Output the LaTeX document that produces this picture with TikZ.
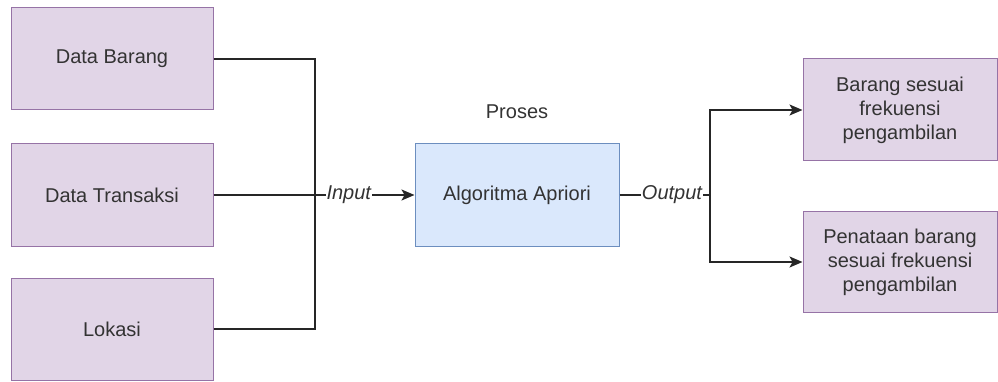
\documentclass[tikz,border=0pt]{standalone}
\usepackage{fontspec}
\setmainfont{Liberation Sans}
\usetikzlibrary{arrows.meta}
\definecolor{pfill}{HTML}{E1D5E7}
\definecolor{pdraw}{HTML}{9673A6}
\definecolor{bfill}{HTML}{DAE8FC}
\definecolor{bdraw}{HTML}{6C8EBF}
\definecolor{txt}{HTML}{333333}
\begin{document}
\begin{tikzpicture}[x=1pt,y=-1pt,
  every node/.style={font=\fontsize{20}{24}\selectfont, text=txt},
  pbox/.style={draw=pdraw, fill=pfill, line width=1pt, inner sep=0pt, align=center},
  bbox/.style={draw=bdraw, fill=bfill, line width=1pt, inner sep=0pt, align=center},
  conn/.style={draw=black!85, line width=1.4pt},
  arr/.style={conn, -{Stealth[length=13pt,width=11pt,inset=3pt]}},
  lbl/.style={fill=white, inner sep=1pt, font=\fontsize{20}{24}\selectfont\itshape}
]
\useasboundingbox (0,0) rectangle (998,382);
\node[pbox, minimum width=202pt, minimum height=102pt] (db) at (112,59) {Data Barang};
\node[pbox, minimum width=202pt, minimum height=102pt] (dt) at (112,195) {Data Transaksi};
\node[pbox, minimum width=202pt, minimum height=102pt] (lk) at (112,329) {Lokasi};
\node[bbox, minimum width=204pt, minimum height=102pt] (algo) at (517,195) {Algoritma Apriori};
\node (proses) at (517,112) {Proses};
\node[pbox, minimum width=194pt, minimum height=102pt] (r1) at (900,110) {Barang sesuai\\frekuensi\\pengambilan};
\node[pbox, minimum width=194pt, minimum height=101pt] (r2) at (900,262) {Penataan barang\\sesuai frekuensi\\pengambilan};
\coordinate (jn) at (315,195);
\coordinate (sp) at (710,195);
\draw[conn] (db.east) -| (jn);
\draw[conn] (lk.east) -| (jn);
\draw[arr] (dt.east) -- node[lbl, pos=0.673] {Input} (algo.west);
\draw[conn] (algo.east) -- node[lbl, pos=0.58] {Output} (sp);
\draw[arr] (sp) |- (r1.west);
\draw[arr] (sp) |- (r2.west);
\end{tikzpicture}
\end{document}
